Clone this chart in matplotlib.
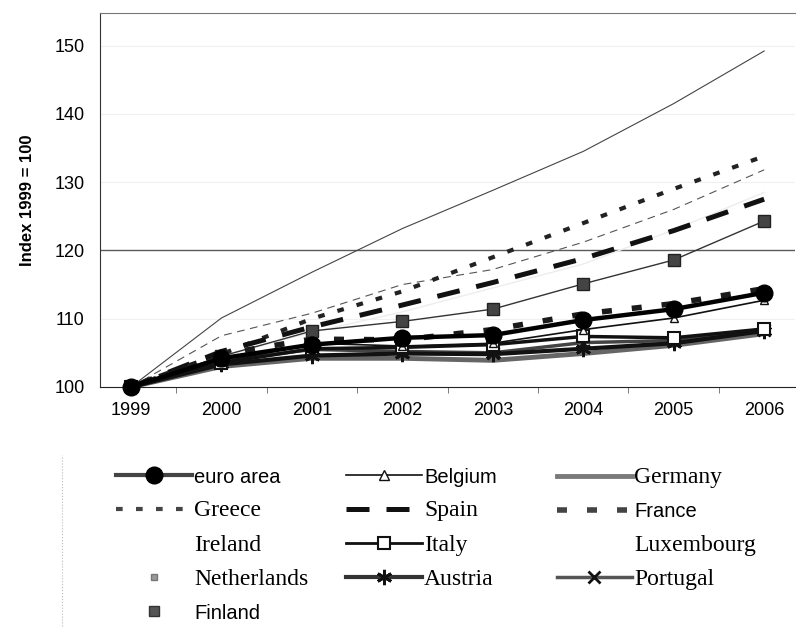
import matplotlib
matplotlib.use("Agg")
import matplotlib.pyplot as plt
from matplotlib.lines import Line2D

# index 1999 = 100
years = [1999, 2000, 2001, 2002, 2003, 2004, 2005, 2006]

euro_area = [100, 104.2, 106.2, 107.2, 107.6, 109.8, 111.4, 113.8]
belgium = [100, 103.6, 106.4, 106.0, 106.4, 108.4, 110.1, 112.7]
germany = [100, 103.0, 104.2, 104.2, 103.9, 104.9, 106.1, 107.8]
greece = [100, 104.8, 110.0, 114.0, 119.0, 124.0, 129.0, 133.8]
spain = [100, 105.2, 108.8, 112.0, 115.3, 118.8, 122.9, 127.5]
france = [100, 104.8, 107.0, 106.9, 108.4, 110.7, 112.2, 114.4]
ireland = [100, 110.1, 116.8, 123.2, 128.8, 134.5, 141.5, 149.2]
italy = [100, 103.5, 105.6, 105.8, 106.2, 107.4, 107.2, 108.5]
luxembourg = [100, 104.5, 108.0, 111.0, 114.5, 118.0, 123.0, 128.5]
netherlands = [100, 107.5, 110.8, 115.0, 117.2, 121.2, 126.0, 131.8]
austria = [100, 103.3, 104.6, 104.9, 104.8, 105.6, 106.4, 108.2]
portugal = [100, 103.8, 105.5, 105.2, 105.0, 106.5, 106.8, 108.4]
finland = [100, 104.5, 108.2, 109.6, 111.4, 115.1, 118.6, 124.3]

sans = "Liberation Sans"
serif = "Liberation Serif"
plt.rcParams["font.family"] = sans

fig = plt.figure(figsize=(7.96, 6.32), dpi=100)
ax = fig.add_axes([0.1256, 0.3877, 0.873, 0.591])

# faint scanned gridlines, 120 is the only one that survived
for v in [110, 130, 140, 150]:
    ax.axhline(v, color="#f0f0f0", lw=0.8, zorder=0)
ax.axhline(120, color="#5a5a5a", lw=1.0, zorder=0)

ax.plot(years, luxembourg, color="#ededed", lw=1.0)
ax.plot(years, ireland, color="#444444", lw=0.8)
ax.plot(years, netherlands, color="#555555", lw=0.8, dashes=(7, 5))
ax.plot(years, greece, color="#222222", lw=3, dashes=(1.6, 3.2))
ax.plot(years, spain, color="#111111", lw=3.6, dashes=(4.6, 3.4))
ax.plot(years, finland, color="#333333", lw=1.0, marker="s", ms=8,
        mfc="#444444", mec="#222222")
ax.plot(years, germany, color="#666666", lw=3.5)
ax.plot(years, portugal, color="#444444", lw=2.5, marker="x", ms=9, mew=2,
        mec="#111111")
ax.plot(years, austria, color="#111111", lw=3, marker=(6, 2, 0), ms=11, mew=2)
ax.plot(years, italy, color="#111111", lw=2.5, marker="s", ms=8, mfc="white",
        mec="#111111", mew=1.5)
ax.plot(years, belgium, color="#111111", lw=1.2, marker="^", ms=6, mfc="white")
ax.plot(years, france, color="#1a1a1a", lw=4, dashes=(1.8, 3.6))
ax.plot(years, euro_area, color="black", lw=3.2, marker="o", ms=12,
        clip_on=False, zorder=5)

ax.set_xlim(1998.657, 2006.34)
ax.set_ylim(100, 154.7)
ax.set_xticks(years)
ax.set_xticklabels([str(y) for y in years], fontsize=13)
ax.set_xticks([y + 0.5 for y in years[:-1]], minor=True)
ax.tick_params(axis="x", which="major", length=0, pad=11)
ax.tick_params(axis="x", which="minor", length=4, direction="out", color="#666666")
ax.set_yticks([100, 110, 120, 130, 140, 150])
ax.tick_params(axis="y", length=0, labelsize=13, pad=11)
ax.set_ylabel("Index 1999 = 100", fontsize=12, fontweight="bold", labelpad=14)

ax.spines["right"].set_visible(False)
ax.spines["top"].set_color("#777777")
ax.spines["top"].set_linewidth(0.8)
ax.spines["left"].set_color("#333333")
ax.spines["bottom"].set_color("#222222")

# legend samples as they came out in the scan (thin ones faded away)
leg_items = {
    "euro area": Line2D([], [], color="#444444", lw=3, marker="o", ms=12,
                        mfc="black", mec="black"),
    "Greece": Line2D([], [], color="#444444", lw=3, dashes=(1.6, 3.2)),
    "Ireland": Line2D([], [], color="white", lw=0.8),
    "Netherlands": Line2D([], [], color="white", marker="s", ms=5,
                          mfc="#999999", mec="#777777"),
    "Finland": Line2D([], [], color="white", marker="s", ms=7,
                      mfc="#555555", mec="#333333"),
    "Belgium": Line2D([], [], color="#111111", lw=1.2, marker="^", ms=7,
                      mfc="white"),
    "Spain": Line2D([], [], color="#111111", lw=3.6, dashes=(4.6, 3.4)),
    "Italy": Line2D([], [], color="#111111", lw=2, marker="s", ms=8,
                    mfc="white", mew=1.5),
    "Austria": Line2D([], [], color="#333333", lw=3, marker=(6, 2, 0), ms=11,
                      mew=2, mec="#111111"),
    "Germany": Line2D([], [], color="#7a7a7a", lw=3.5),
    "France": Line2D([], [], color="#444444", lw=4, dashes=(1.8, 3.6)),
    "Luxembourg": Line2D([], [], color="white", lw=1),
    "Portugal": Line2D([], [], color="#555555", lw=2.5, marker="x", ms=9,
                       mew=2, mec="#111111"),
}
columns = [["euro area", "Greece", "Ireland", "Netherlands", "Finland"],
           ["Belgium", "Spain", "Italy", "Austria"],
           ["Germany", "France", "Luxembourg", "Portugal"]]
col_x = [0.121, 0.410, 0.674]
sans_labels = {"euro area", "Belgium", "France", "Finland"}

for names, x in zip(columns, col_x):
    leg = fig.legend([leg_items[k] for k in names], names, ncol=1,
                     loc="upper left", bbox_to_anchor=(x, 0.292),
                     frameon=False, fontsize=16, handlelength=3.4,
                     handletextpad=0.1, labelspacing=0.6)
    for t in leg.get_texts():
        if t.get_text() in sans_labels:
            t.set_fontfamily(sans)
            t.set_fontsize(14.5)
        else:
            t.set_fontfamily(serif)
            t.set_fontsize(17)

fig.add_artist(Line2D([0.078, 0.078], [0.01, 0.28], color="#bbbbbb", lw=0.8,
                      ls=":", transform=fig.transFigure))

fig.savefig("out.png", dpi=100, facecolor="white")
